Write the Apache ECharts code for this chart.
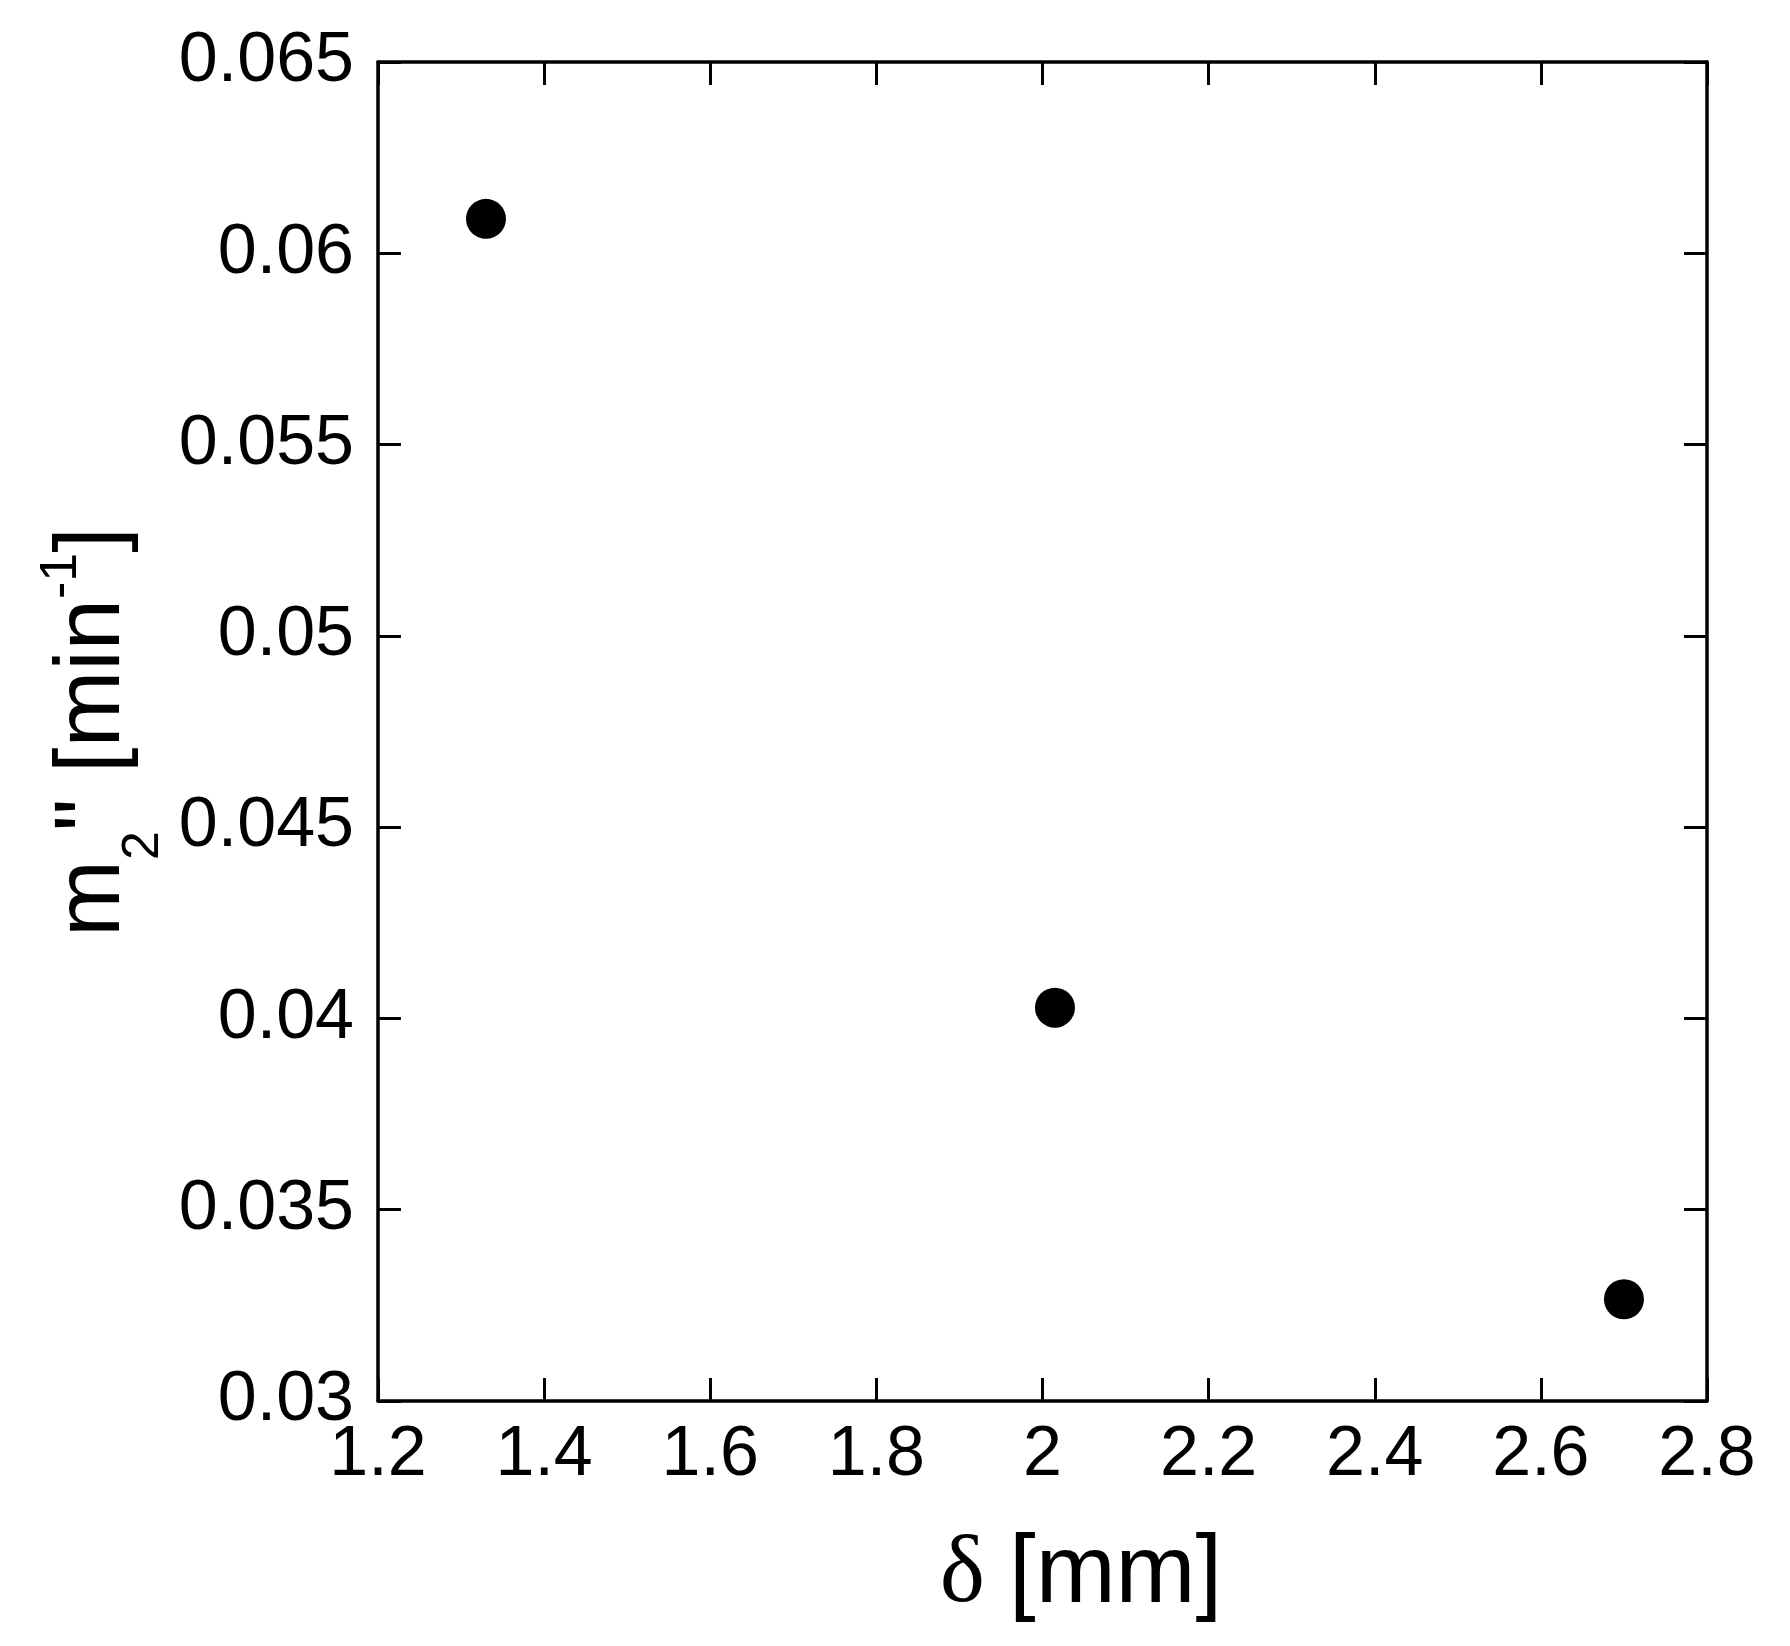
<!DOCTYPE html>
<html>
<head>
<meta charset="utf-8">
<script src="https://cdn.jsdelivr.net/npm/echarts@6/dist/echarts.min.js"></script>
<style>html,body{margin:0;padding:0;background:#fff}#c{width:1790px;height:1646px}</style>
</head>
<body>
<div id="c"></div>
<script>
const xValues = [1.33, 2.015, 2.70];
const yValues = [0.0609, 0.04028, 0.03266];
const xTicks = {min: 1.2, max: 2.8, interval: 0.2};
const yTicks = {min: 0.03, max: 0.065, interval: 0.005};

const FONT = '"Liberation Sans", Arial, sans-serif';
const chart = echarts.init(document.getElementById('c'), null, {renderer: 'canvas'});
const axisLine = {show: true, onZero: false, lineStyle: {color: '#000', width: 3.5}};
const axisTick = {show: true, inside: true, length: 23, lineStyle: {color: '#000', width: 3}};
const labelStyle = {color: '#000', fontFamily: FONT, fontSize: 70};

chart.setOption({
  animation: false,
  backgroundColor: '#fff',
  grid: {left: 378, top: 62, width: 1329, height: 1339, containLabel: false},
  xAxis: [
    {type: 'value', position: 'bottom', min: xTicks.min, max: xTicks.max, interval: xTicks.interval,
     axisLine, axisTick, splitLine: {show: false},
     axisLabel: Object.assign({margin: 20}, labelStyle)},
    {type: 'value', position: 'top', min: xTicks.min, max: xTicks.max, interval: xTicks.interval,
     axisLine, axisTick, splitLine: {show: false}, axisLabel: {show: false}}
  ],
  yAxis: [
    {type: 'value', position: 'left', min: yTicks.min, max: yTicks.max, interval: yTicks.interval,
     axisLine, axisTick, splitLine: {show: false},
     axisLabel: Object.assign({margin: 24}, labelStyle)},
    {type: 'value', position: 'right', min: yTicks.min, max: yTicks.max, interval: yTicks.interval,
     axisLine, axisTick, splitLine: {show: false}, axisLabel: {show: false}}
  ],
  graphic: [
    {type: 'text', x: 1081, y: 1576,
     style: {
       text: '{d|δ}{n|[mm]}',
       align: 'center', verticalAlign: 'middle',
       rich: {
         d: {fontFamily: '"Liberation Serif", "Times New Roman", serif', fontSize: 96, fill: '#000', padding: [0, 24, 0, 0]},
         n: {fontFamily: FONT, fontSize: 96, fill: '#000'}
       }
     }},
    {type: 'text', x: 88, y: 732, rotation: Math.PI / 2,
     style: {
       text: '{m|m}{s|2}{m|" [min}{p|-1}{m|]}',
       align: 'center', verticalAlign: 'middle',
       rich: {
         m: {fontFamily: FONT, fontSize: 92, fill: '#000', verticalAlign: 'bottom', lineHeight: 104},
         s: {fontFamily: FONT, fontSize: 52, fill: '#000', verticalAlign: 'bottom', lineHeight: 104, padding: [0, 0, -30, 0]},
         p: {fontFamily: FONT, fontSize: 52, fill: '#000', verticalAlign: 'top', lineHeight: 104, padding: [0, 0, 30, 0]}
       }
     }}
  ],
  series: [{
    type: 'scatter',
    xAxisIndex: 0, yAxisIndex: 0,
    symbol: 'circle', symbolSize: 40,
    itemStyle: {color: '#000', opacity: 1},
    data: xValues.map((x, i) => [x, yValues[i]])
  }]
});
</script>
</body>
</html>
